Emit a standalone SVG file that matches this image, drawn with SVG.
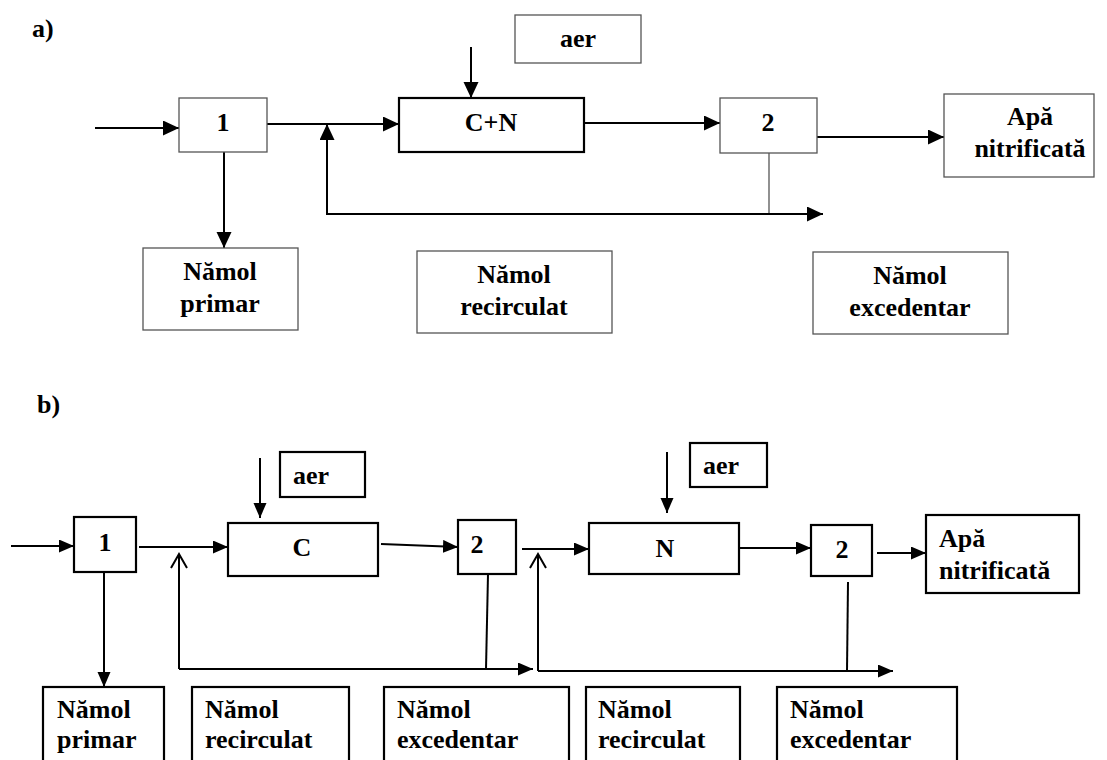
<svg xmlns="http://www.w3.org/2000/svg" width="1107" height="760" viewBox="0 0 1107 760">
<style>
.t{font-family:"Liberation Serif","Times New Roman",serif;font-weight:bold;font-size:26px;fill:#000}
.m{text-anchor:middle}
.thin{fill:#fff;stroke:#555;stroke-width:1.3}
.thick{fill:#fff;stroke:#000;stroke-width:2.2}
.c{stroke:#000;stroke-width:2;fill:none}
.cg{stroke:#555;stroke-width:1.3;fill:none}
</style>
<defs>
<marker id="ah" markerUnits="userSpaceOnUse" markerWidth="16" markerHeight="16" refX="16" refY="7.5" orient="auto"><path d="M0,0 L16,7.5 L0,15 z" fill="#000"/></marker>
<marker id="ahb" markerUnits="userSpaceOnUse" markerWidth="15" markerHeight="14" refX="15" refY="6.5" orient="auto"><path d="M0,0 L15,6.5 L0,13 z" fill="#000"/></marker>
</defs>
<rect width="1107" height="760" fill="#fff"/>
<text class="t" x="32" y="37">a)</text>
<text class="t" x="37" y="413">b)</text>

<g id="connectors">
<path class="c" d="M95,128 H179" marker-end="url(#ah)"/>
<path class="c" d="M265,124 H399" marker-end="url(#ah)"/>
<path class="c" d="M327,215 V124" marker-end="url(#ah)"/>
<path class="c" d="M224,152 V248" marker-end="url(#ah)"/>
<path class="c" d="M471,47 V98" marker-end="url(#ah)"/>
<path class="c" d="M584,123 H720" marker-end="url(#ah)"/>
<path class="c" d="M817,137 H944" marker-end="url(#ah)"/>
<path class="cg" d="M769,153 V214"/>
<path class="c" d="M327,214 H823" marker-end="url(#ah)"/>

<path class="c" d="M11,546 H74" marker-end="url(#ahb)"/>
<path class="c" d="M139,547 H228" marker-end="url(#ahb)"/>
<path class="c" d="M260,458 V518" marker-end="url(#ahb)"/>
<path class="c" d="M381,544 L458,547" marker-end="url(#ahb)"/>
<path class="c" d="M522,549 H589" marker-end="url(#ahb)"/>
<path class="c" d="M667,452 V513" marker-end="url(#ahb)"/>
<path class="c" d="M739,548 H811" marker-end="url(#ahb)"/>
<path class="c" d="M877,553 H926" marker-end="url(#ahb)"/>
<path class="c" d="M104,572 V687" marker-end="url(#ahb)"/>
<path class="c" d="M179,669 V554 M171,568 L179,554 L187,568"/>
<path class="c" d="M179,669 H533" marker-end="url(#ahb)"/>
<path class="c" d="M488,574 L486,669"/>
<path class="c" d="M538,671 V554 M530,568 L538,554 L546,568"/>
<path class="c" d="M538,671 H893" marker-end="url(#ahb)"/>
<path class="c" d="M848,582 L847,671"/>
</g>

<g id="a-n1"><rect class="thin" x="179" y="98" width="88" height="54"/><text class="t m" x="223" y="131">1</text></g>
<g id="a-cn"><rect class="thick" x="399" y="98" width="185" height="54"/><text class="t m" x="491" y="131">C+N</text></g>
<g id="a-aer"><rect class="thin" x="515" y="15" width="126" height="48"/><text class="t m" x="578" y="47">aer</text></g>
<g id="a-n2"><rect class="thin" x="720" y="98" width="97" height="55"/><text class="t m" x="768" y="131">2</text></g>
<g id="a-apa"><rect class="thin" x="944" y="94" width="150" height="83"/><text class="t m" x="1030" y="125">Apă</text><text class="t m" x="1030" y="157">nitrificată</text></g>
<g id="a-primar"><rect class="thin" x="143" y="248" width="155" height="82"/><text class="t m" x="220" y="280">Nămol</text><text class="t m" x="220" y="312">primar</text></g>
<g id="a-recirculat"><rect class="thin" x="417" y="251" width="195" height="82"/><text class="t m" x="514" y="283">Nămol</text><text class="t m" x="514" y="315">recirculat</text></g>
<g id="a-excedentar"><rect class="thin" x="813" y="252" width="195" height="82"/><text class="t m" x="910" y="284">Nămol</text><text class="t m" x="910" y="316">excedentar</text></g>

<g id="b-n1"><rect class="thick" x="74" y="517" width="62" height="55"/><text class="t m" x="105" y="551">1</text></g>
<g id="b-aer1"><rect class="thick" x="280" y="452" width="85" height="45"/><text class="t" x="293" y="484">aer</text></g>
<g id="b-c"><rect class="thick" x="228" y="523" width="150" height="53"/><text class="t m" x="302" y="556">C</text></g>
<g id="b-n2a"><rect class="thick" x="458" y="520" width="58" height="54"/><text class="t m" x="477" y="553">2</text></g>
<g id="b-aer2"><rect class="thick" x="690" y="443" width="77" height="44"/><text class="t" x="703" y="474">aer</text></g>
<g id="b-n"><rect class="thick" x="589" y="523" width="150" height="51"/><text class="t m" x="665" y="557">N</text></g>
<g id="b-n2b"><rect class="thick" x="811" y="525" width="61" height="51"/><text class="t m" x="842" y="558">2</text></g>
<g id="b-apa"><rect class="thick" x="926" y="515" width="153" height="78"/><text class="t" x="939" y="547">Apă</text><text class="t" x="939" y="579">nitrificată</text></g>
<g id="b-primar"><rect class="thick" x="43" y="687" width="121" height="90"/><text class="t" x="57" y="718">Nămol</text><text class="t" x="57" y="748">primar</text></g>
<g id="b-recirculat1"><rect class="thick" x="192" y="687" width="157" height="90"/><text class="t" x="205" y="718">Nămol</text><text class="t" x="205" y="748">recirculat</text></g>
<g id="b-excedentar1"><rect class="thick" x="384" y="687" width="185" height="90"/><text class="t" x="397" y="718">Nămol</text><text class="t" x="397" y="748">excedentar</text></g>
<g id="b-recirculat2"><rect class="thick" x="586" y="687" width="154" height="90"/><text class="t" x="598" y="718">Nămol</text><text class="t" x="598" y="748">recirculat</text></g>
<g id="b-excedentar2"><rect class="thick" x="777" y="687" width="180" height="90"/><text class="t" x="790" y="718">Nămol</text><text class="t" x="790" y="748">excedentar</text></g>
</svg>
